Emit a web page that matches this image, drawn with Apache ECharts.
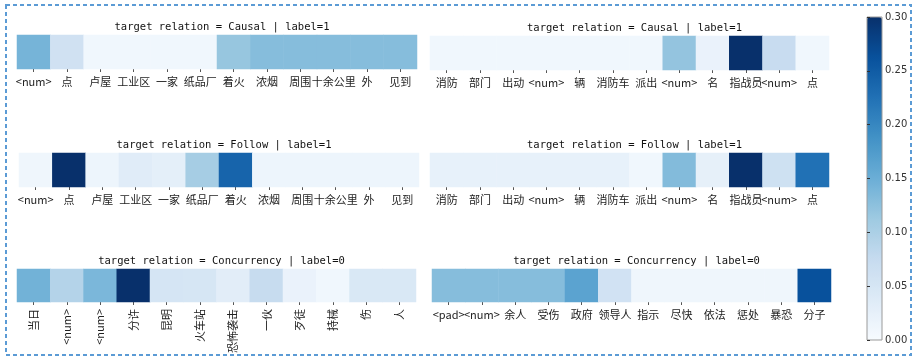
<!DOCTYPE html>
<html><head><meta charset="utf-8">
<script src="https://cdn.jsdelivr.net/npm/echarts@6/dist/echarts.min.js"></script>
<style>html,body{margin:0;padding:0;background:#fff}#c{width:913px;height:360px}</style>
</head><body><div id="c"></div>
<script>
// tokens
const tokensFire   = ['<num>','点','卢屋','工业区','一家','纸品厂','着火','浓烟','周围','十余公里','外','见到'];
const tokensTruck  = ['消防','部门','出动','<num>','辆','消防车','派出','<num>','名','指战员','<num>','点'];
const tokensAttack = ['当日','<num>','<num>','分许','昆明','火车站','恐怖袭击','一伙','歹徒','持械','伤','人'];
const tokensGov    = ['<pad>','<num>','余人','受伤','政府','领导人','指示','尽快','依法','惩处','暴恐','分子'];

// panel titles
const titleCausal = 'target relation = Causal | label=1';
const titleFollow = 'target relation = Follow | label=1';
const titleConc   = 'target relation = Concurrency | label=0';

// attention values
const causalFire   = [0.142,0.060,0.010,0.010,0.010,0.010,0.118,0.130,0.130,0.130,0.130,0.130];
const causalTruck  = [0.010,0.010,0.010,0.010,0.010,0.010,0.010,0.120,0.020,0.300,0.072,0.010];
const followFire   = [0.012,0.300,0.015,0.035,0.028,0.105,0.240,0.015,0.015,0.015,0.015,0.015];
const followTruck  = [0.024,0.024,0.024,0.024,0.024,0.024,0.010,0.132,0.026,0.300,0.062,0.225];
const concAttack   = [0.145,0.092,0.138,0.300,0.052,0.050,0.032,0.073,0.020,0.010,0.045,0.045];
const concGov      = [0.130,0.130,0.130,0.130,0.165,0.058,0.012,0.012,0.012,0.012,0.012,0.262];

// colorbar
const cbMin = 0, cbMax = 0.30, cbStep = 0.05;
const blues = ['#f7fbff','#deebf7','#c6dbef','#9ecae1','#6baed6','#4292c6','#2171b5','#08519c','#08306b'];

const panels = [
  {title: titleCausal, tokens: tokensFire,   vals: causalFire,  box: {left: 17,  top: 35,  width: 400, height: 34}, rotate: 0},
  {title: titleCausal, tokens: tokensTruck,  vals: causalTruck, box: {left: 430, top: 36,  width: 399, height: 34}, rotate: 0},
  {title: titleFollow, tokens: tokensFire,   vals: followFire,  box: {left: 19,  top: 153, width: 400, height: 34}, rotate: 0},
  {title: titleFollow, tokens: tokensTruck,  vals: followTruck, box: {left: 430, top: 153, width: 399, height: 34}, rotate: 0},
  {title: titleConc,   tokens: tokensAttack, vals: concAttack,  box: {left: 17,  top: 269, width: 399, height: 33}, rotate: 90},
  {title: titleConc,   tokens: tokensGov,    vals: concGov,     box: {left: 432, top: 269, width: 399, height: 33}, rotate: 0}
];

const cjk = '"Noto Sans CJK SC", "DejaVu Sans", sans-serif';
const grid = [], xAxis = [], yAxis = [], series = [], title = [];
panels.forEach((p, i) => {
  grid.push(Object.assign({containLabel: false}, p.box));
  xAxis.push({
    type: 'category', gridIndex: i, data: p.tokens,
    axisLine: {show: false},
    axisTick: {show: true, alignWithLabel: true, length: 3, lineStyle: {color: '#555'}},
    axisLabel: {show: true, interval: 0, rotate: p.rotate, margin: 7, fontSize: 11, color: '#222', fontFamily: cjk},
    splitLine: {show: false}
  });
  yAxis.push({type: 'category', gridIndex: i, data: [''], show: false});
  series.push({
    type: 'heatmap', xAxisIndex: i, yAxisIndex: i,
    data: p.vals.map((v, k) => [k, 0, v]),
    itemStyle: {borderWidth: 0},
    emphasis: {disabled: true}, progressive: 0
  });
  title.push({
    text: p.title, left: p.box.left + p.box.width / 2, textAlign: 'center',
    top: p.box.top - 18,
    textStyle: {fontSize: 10.5, fontWeight: 'normal', color: '#111', fontFamily: '"DejaVu Sans Mono", monospace'}
  });
});

// colorbar axis grid
const cbIdx = panels.length;
grid.push({left: 867, top: 17, width: 15, height: 323, show: true, borderColor: '#9a9a9a', borderWidth: 1, backgroundColor: 'transparent', z: 10});
xAxis.push({type: 'value', gridIndex: cbIdx, show: false});
yAxis.push({
  type: 'value', gridIndex: cbIdx, position: 'right', min: cbMin, max: cbMax, interval: cbStep,
  axisLine: {show: false}, splitLine: {show: false},
  axisTick: {show: true, length: 3, lineStyle: {color: '#333'}},
  axisLabel: {margin: 3, fontSize: 10, color: '#333', fontFamily: '"DejaVu Sans", sans-serif', formatter: v => v.toFixed(2)},
  z: 10
});

const chart = echarts.init(document.getElementById('c'), null, {renderer: 'canvas'});
chart.setOption({
  backgroundColor: '#fff',
  animation: false,
  title: title,
  grid: grid, xAxis: xAxis, yAxis: yAxis,
  visualMap: {
    type: 'continuous', min: cbMin, max: cbMax, seriesIndex: [0,1,2,3,4,5],
    inRange: {color: blues}, calculable: false, hoverLink: false,
    left: 867, top: 17, itemWidth: 15, itemHeight: 323, padding: 0,
    text: null, show: true
  },
  graphic: [{
    type: 'rect', silent: true, z: 100,
    shape: {x: 6, y: 5, width: 905, height: 350},
    style: {fill: 'none', stroke: '#5b9bd5', lineWidth: 2, lineDash: [4, 3]}
  }],
  series: series
});
</script>
</body></html>
